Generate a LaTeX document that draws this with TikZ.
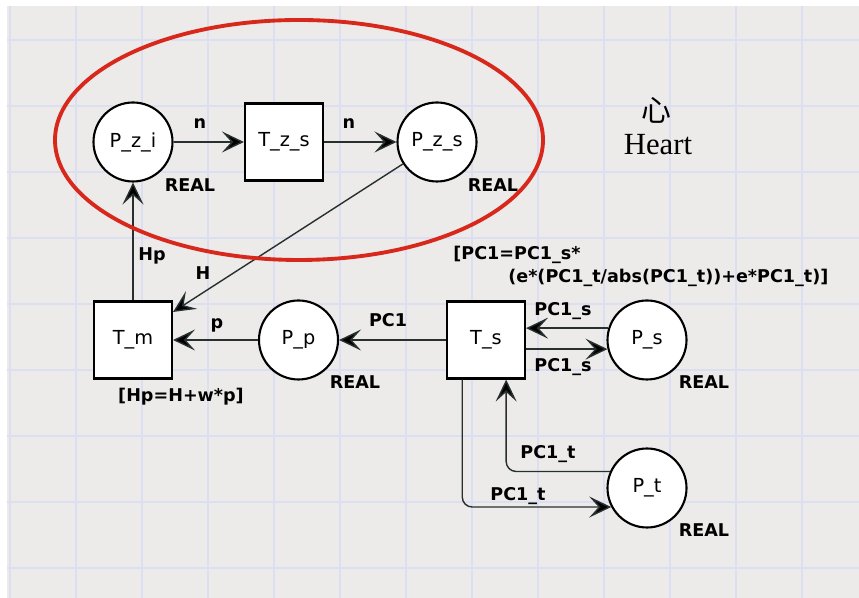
\documentclass[tikz,border=0pt]{standalone}
\usepackage{fontspec}
\setsansfont{DejaVu Sans}
\newfontfamily\heartfont{Liberation Serif}
\newfontfamily\cjkfont{Noto Sans CJK SC}
\usetikzlibrary{arrows.meta}
\definecolor{NetPaper}{HTML}{ECEBE9}
\definecolor{NetGrid}{HTML}{DCDEF1}
\definecolor{NetArc}{HTML}{27302F}
\definecolor{NetRed}{HTML}{D8281C}

\begin{document}
\begin{tikzpicture}[
    x=1cm,y=1cm,font=\sffamily,
    placenode/.style={circle,draw=black,line width=1.2pt,fill=white,
      minimum size=1.58cm,inner sep=0pt,font=\sffamily\fontsize{11}{13}\selectfont},
    transnode/.style={rectangle,draw=black,line width=1.2pt,fill=white,
      minimum width=1.56cm,minimum height=1.54cm,inner sep=0pt,font=\sffamily\fontsize{11}{13}\selectfont},
    typelbl/.style={inner sep=0pt,font=\sffamily\bfseries\fontsize{10}{12}\selectfont},
    arclbl/.style={inner sep=0pt,font=\sffamily\bfseries\fontsize{10}{12}\selectfont},
    arcline/.style={-{Stealth[length=4.4mm,width=4.2mm,inset=1.9mm,fill=black]},line width=0.8pt,draw=NetArc}
  ]
    % paper and grid
    \useasboundingbox (0,0) rectangle (17.18,11.96);
    \fill[NetPaper] (0.14,0) rectangle (17.18,11.84);
    \foreach \i in {0,...,12}
      \draw[NetGrid,line width=0.7pt] (0.2+1.32*\i,0) -- (0.2+1.32*\i,11.84);
    \foreach \j in {0,...,8}
      \draw[NetGrid,line width=0.7pt] (0.14,11.16-1.32*\j) -- (17.18,11.16-1.32*\j);

    % places and transitions
    \node[placenode] (Pzi) at (2.66,9.12) {P\_z\_i};
    \node[transnode] (Tzs) at (5.68,9.12) {T\_z\_s};
    \node[placenode] (Pzs) at (8.74,9.12) {P\_z\_s};
    \node[transnode] (Tm) at (2.66,5.16) {T\_m};
    \node[placenode] (Pp) at (5.97,5.16) {P\_p};
    \node[transnode] (Ts) at (9.72,5.16) {T\_s};
    \node[placenode] (Ps) at (12.94,5.16) {P\_s};
    \node[placenode] (Pt) at (12.94,2.20) {P\_t};

    % colour sets and guards
    \node[typelbl] (PziType) at (3.80,8.26) {REAL};
    \node[typelbl] (PzsType) at (9.86,8.26) {REAL};
    \node[typelbl] (PpType) at (7.10,4.32) {REAL};
    \node[typelbl] (PsType) at (14.08,4.32) {REAL};
    \node[typelbl] (PtType) at (14.08,1.36) {REAL};
    \node[typelbl] (TmGuard) at (3.62,4.02) {[Hp=H+w*p]};
    \node[typelbl,anchor=west] (TsGuardA) at (9.06,6.86) {[PC1=PC1\_s*};
    \node[typelbl,anchor=west] (TsGuardB) at (10.16,6.40) {(e*(PC1\_t/abs(PC1\_t))+e*PC1\_t)]};

    % arcs
    \draw[arcline] (Pzi) -- (Tzs);
    \draw[arcline] (Tzs) -- (Pzs);
    \draw[arcline] (Tm) -- (Pzi);
    \draw[arcline] (Pzs) -- (Tm.35);
    \draw[arcline] (Pp) -- (Tm);
    \draw[arcline] (Ts) -- (Pp);
    \draw[arcline] (Ps.163) -- (Ps.163 -| Ts.east);
    \draw[arcline] (Ps.193 -| Ts.east) -- (Ps.193);
    \draw[arcline,rounded corners=0.2cm] (Ts.239) |- (Pt.208);
    \draw[arcline,rounded corners=0.2cm] (Pt.156) -| (Ts.297);

    % arc inscriptions
    \node[arclbl] (nIn) at (4.00,9.48) {n};
    \node[arclbl] (nOut) at (6.98,9.48) {n};
    \node[arclbl] (HpLbl) at (3.04,6.84) {Hp};
    \node[arclbl] (HLbl) at (4.06,6.50) {H};
    \node[arclbl] (pLbl) at (4.34,5.46) {p};
    \node[arclbl] (PCLbl) at (7.76,5.56) {PC1};
    \node[arclbl] (PCsIn) at (11.26,5.74) {PC1\_s};
    \node[arclbl] (PCsOut) at (11.26,4.62) {PC1\_s};
    \node[arclbl] (PCtIn) at (10.96,2.88) {PC1\_t};
    \node[arclbl] (PCtOut) at (10.36,2.04) {PC1\_t};

    % heart module
    \draw[NetRed,line width=2.2pt] (5.98,9.16) ellipse [x radius=4.88,y radius=2.4];
    \node[inner sep=0pt,font=\cjkfont\fontsize{17}{19}\selectfont] (xin) at (13.12,9.76) {心};
    \node[inner sep=0pt,font=\heartfont\fontsize{17.5}{20}\selectfont] (heart) at (13.16,9.06) {Heart};
\end{tikzpicture}
\end{document}
